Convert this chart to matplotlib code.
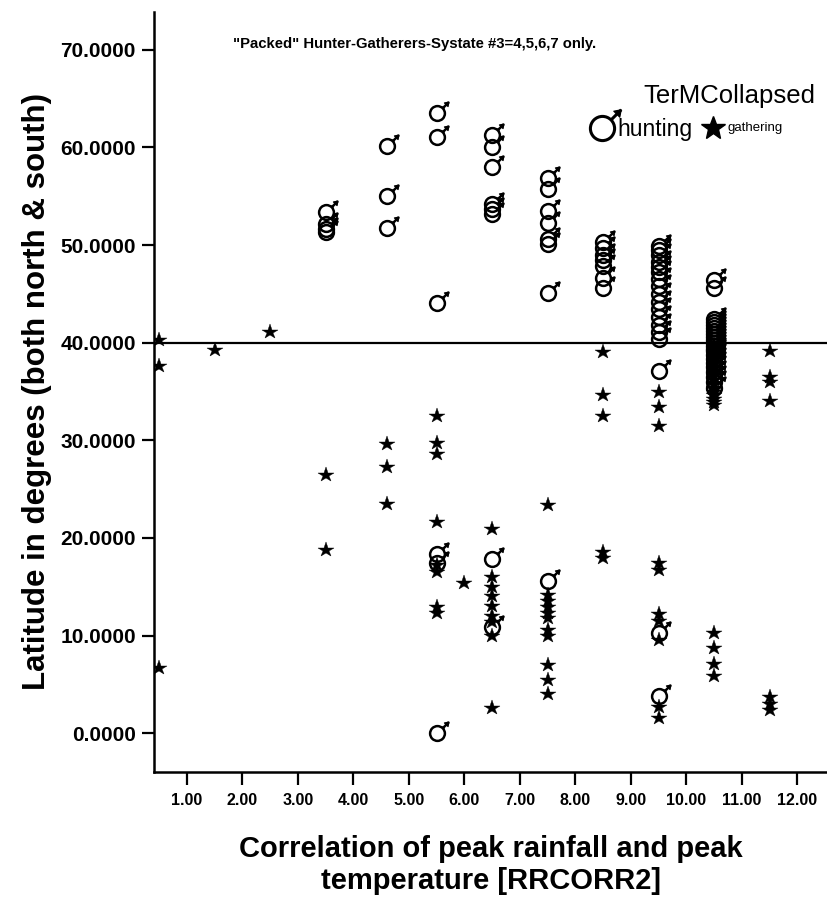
import matplotlib
matplotlib.use("Agg")
import matplotlib.pyplot as plt
from matplotlib.path import Path

plt.rcParams['font.family'] = ['Liberation Sans', 'DejaVu Sans']

# hunting societies (male symbol)
hunt_x = [3.5] * 4 + [4.6] * 3 + [5.5] * 6 + [6.5] * 8 + [7.5] * 8 + [8.5] * 7 + [9.5] * 18 + [10.5] * 22
hunt_y = [53.4, 52.2, 51.6, 51.3,
          60.1, 55.0, 51.7,
          63.5, 61.1, 44.1, 18.4, 17.4, 0.0,
          61.3, 60.0, 58.0, 54.2, 53.7, 53.2, 17.8, 10.9,
          56.9, 55.7, 53.5, 52.3, 50.6, 50.1, 45.1, 15.6,
          50.3, 49.7, 49.0, 48.5, 47.9, 46.6, 45.6,
          49.9, 49.5, 49.0, 48.3, 47.7, 47.2, 46.5, 45.8, 45.0, 44.2, 43.4, 42.6, 41.8, 41.1, 40.4, 37.1, 10.3, 3.8,
          46.4, 45.6, 42.4, 42.1, 41.8, 41.5, 41.2, 40.9, 40.6, 40.3, 40.0, 39.7, 39.4, 39.1, 38.7,
          38.3, 37.9, 37.5, 37.0, 36.5, 36.0, 35.4]

# gathering societies (star)
gath_x = ([0.5] * 3 + [1.5] + [2.5] + [3.5] * 2 + [4.6] * 3 + [5.5] * 8 + [6.0] + [6.5] * 9
          + [7.5] * 11 + [8.5] * 5 + [9.5] * 10 + [10.5] * 21 + [11.5] * 7)
gath_y = [40.3, 37.6, 6.7,
          39.3,
          41.1,
          26.4, 18.8,
          29.6, 27.3, 23.5,
          32.5, 29.7, 28.6, 21.6, 17.2, 16.5, 12.9, 12.3,
          15.4,
          20.9, 16.0, 15.0, 14.1, 13.0, 12.0, 11.4, 10.0, 2.6,
          23.4, 14.2, 13.5, 12.9, 12.3, 11.8, 10.6, 10.0, 7.0, 5.5, 4.0,
          39.0, 34.6, 32.5, 18.6, 17.9,
          35.0, 33.4, 31.5, 17.4, 16.7, 12.2, 11.5, 9.5, 2.7, 1.6,
          39.8, 39.4, 39.0, 38.6, 38.2, 37.8, 37.4, 37.0, 36.6, 36.2, 35.8, 35.4, 35.0, 34.6, 34.2,
          33.9, 33.6, 10.3, 8.7, 7.1, 5.9,
          39.1, 36.5, 36.0, 34.0, 3.7, 3.0, 2.4]

x_ticks = [1, 2, 3, 4, 5, 6, 7, 8, 9, 10, 11, 12]
y_ticks = [0, 10, 20, 30, 40, 50, 60, 70]
ref_line = 40

# male symbol marker: ring + stem, and a filled arrow head
tip = 1.55
circ = Path.circle((0, 0), 1.0)
stem = Path([(0.707, 0.707), (tip, tip)], [Path.MOVETO, Path.LINETO])
body = Path.make_compound_path(circ, stem)
head = Path([(tip, tip), (tip - 0.62, tip - 0.12), (tip - 0.12, tip - 0.62), (tip, tip)],
            [Path.MOVETO, Path.LINETO, Path.LINETO, Path.CLOSEPOLY])

fig = plt.figure(figsize=(8.28, 8.97), dpi=100)
ax = fig.add_axes([0.186, 0.139, 0.814, 0.848])

ax.axhline(ref_line, color='black', lw=1.6, zorder=1)

ax.plot(gath_x, gath_y, ls='none', marker='*', ms=11.5, mfc='black', mec='black', mew=0.3, zorder=3)
ax.plot(hunt_x, hunt_y, ls='none', marker=body, ms=16.5, mfc='none', mec='black', mew=1.8, zorder=4)
ax.plot(hunt_x, hunt_y, ls='none', marker=head, ms=16.5, mfc='black', mec='black', mew=0.8, zorder=4)

ax.set_xlim(0.41, 12.55)
ax.set_ylim(-4.0, 73.9)
ax.set_xticks(x_ticks)
ax.set_xticklabels(['%.2f' % t for t in x_ticks], fontsize=11.5, fontweight='bold')
ax.set_yticks(y_ticks)
ax.set_yticklabels(['%.4f' % t for t in y_ticks], fontsize=15, fontweight='bold')
ax.tick_params(axis='both', direction='out', length=9, width=1.6, color='black')
ax.tick_params(axis='x', pad=6)
ax.tick_params(axis='y', pad=4)

for s in ['top', 'right']:
    ax.spines[s].set_visible(False)
for s in ['left', 'bottom']:
    ax.spines[s].set_linewidth(1.8)

ax.set_ylabel('Latitude in degrees (both north & south)', fontsize=22.5, fontweight='bold', labelpad=6)
ax.set_xlabel('Correlation of peak rainfall and peak\ntemperature [RRCORR2]', fontsize=21,
              fontweight='bold', labelpad=19, linespacing=1.22)

ax.text(0.387, 0.957, '"Packed" Hunter-Gatherers-Systate #3=4,5,6,7 only.', transform=ax.transAxes,
        ha='center', va='center', fontsize=10.7, fontweight='bold')

# legend drawn by hand
ax.text(0.853, 0.889, 'TerMCollapsed', transform=ax.transAxes, ha='center', va='center', fontsize=18.5)
ax.plot([0.664], [0.847], transform=ax.transAxes, ls='none', marker=body, ms=27, mfc='none',
        mec='black', mew=2.2, clip_on=False)
ax.plot([0.664], [0.847], transform=ax.transAxes, ls='none', marker=head, ms=27, mfc='black',
        mec='black', mew=0.8, clip_on=False)
ax.text(0.688, 0.845, 'hunting', transform=ax.transAxes, ha='left', va='center', fontsize=16.5)
ax.plot([0.829], [0.847], transform=ax.transAxes, ls='none', marker='*', ms=18, mfc='black',
        mec='black', clip_on=False)
ax.text(0.851, 0.847, 'gathering', transform=ax.transAxes, ha='left', va='center', fontsize=9.5)

fig.savefig('out.png', dpi=100)
